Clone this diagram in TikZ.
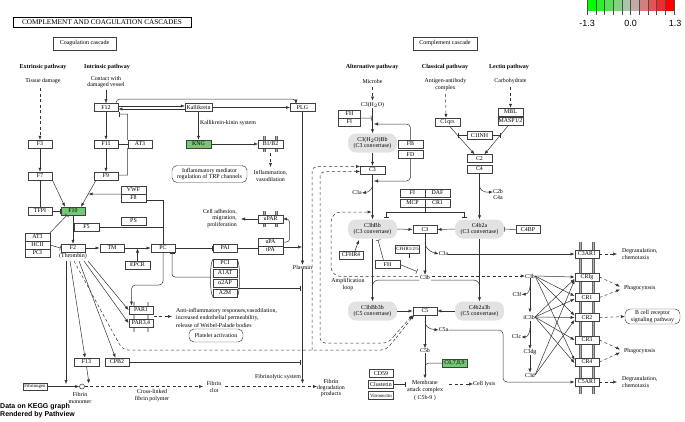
\documentclass[tikz,border=0pt]{standalone}
\usepackage{fontspec}
\setmainfont{Liberation Serif}
\newfontfamily\sansf{Liberation Sans}
\usetikzlibrary{arrows.meta}
\definecolor{kgreen}{RGB}{115,200,115}
\definecolor{cvgray}{RGB}{226,226,226}
\definecolor{lg0}{RGB}{0,255,0}
\definecolor{lg1}{RGB}{42,241,42}
\definecolor{lg2}{RGB}{84,226,84}
\definecolor{lg3}{RGB}{127,212,127}
\definecolor{lg4}{RGB}{169,197,169}
\definecolor{lg5}{RGB}{197,169,169}
\definecolor{lg6}{RGB}{212,127,127}
\definecolor{lg7}{RGB}{226,84,84}
\definecolor{lg8}{RGB}{241,42,42}
\definecolor{lg9}{RGB}{255,0,0}
\newcommand{\kf}{\fontsize{5.9}{6.3}\selectfont}
\newcommand{\kfs}{\fontsize{4.8}{5}\selectfont}
\begin{document}
\begin{tikzpicture}[x=1pt,y=-1pt,
  g/.style={draw=black!75, line width=0.45pt, fill=white, minimum width=24.5pt, minimum height=8pt, inner sep=0pt, font=\kf},
  gg/.style={g, fill=kgreen},
  cv/.style={fill=cvgray, rounded corners=8pt, minimum width=49pt, minimum height=19pt, inner sep=0pt, font=\kf, align=center},
  tx/.style={font=\kf, inner sep=0pt, align=center},
  bt/.style={font=\fontsize{6}{6.5}\selectfont\bfseries, inner sep=0pt},
  rb/.style={draw=black!75, line width=0.45pt, rounded corners=5pt, font=\kf, align=center, inner sep=0pt},
  ln/.style={line width=0.5pt, draw=black!80},
  ar/.style={ln, -{Latex[length=4pt,width=3.2pt]}},
  inh/.style={ln, -{Bar[width=5pt]}},
  dsh/.style={dash pattern=on 3pt off 2.5pt},
  memb/.style={draw=black!60, double=black!30, double distance=1.4pt, line width=0.4pt}
]
\useasboundingbox (0,0) rectangle (685,421);
\fill[white] (0,0) rectangle (685,421);

% ---------- legend ----------
\foreach \i in {0,...,9} \fill[lg\i] ({587+8.7*\i},0) rectangle ({595.7+8.7*\i},11);
\foreach \i in {0,...,10} \draw[line width=0.4pt, black!70] ({587+8.7*\i},0) -- ({587+8.7*\i},15);
\node[font=\sansf\fontsize{9}{10}\selectfont, inner sep=0] (lgA) at (587,23) {-1.3};
\node[font=\sansf\fontsize{9}{10}\selectfont, inner sep=0] (lgB) at (630.5,23) {0.0};
\node[font=\sansf\fontsize{9}{10}\selectfont, inner sep=0] (lgC) at (675,23) {1.3};

% ---------- membranes ----------
\draw[memb] (264.5,136) -- (264.5,152);
\draw[memb] (276.5,136) -- (276.5,152);
\draw[memb] (264.5,211) -- (264.5,227);
\draw[memb] (276.5,211) -- (276.5,227);
\draw[memb] (134,302) -- (134,332);
\draw[memb] (148,302) -- (148,332);
\draw[memb] (580.5,242) -- (580.5,394);
\draw[memb] (593.5,242) -- (593.5,394);

% ---------- headers ----------
\node[draw=black, line width=0.6pt, minimum width=178pt, minimum height=10pt, inner sep=0pt, font=\fontsize{7.2}{8}\selectfont] (title) at (102,22) {COMPLEMENT AND COAGULATION CASCADES};
\node[g, minimum width=63pt, minimum height=13pt, font=\fontsize{6}{7}\selectfont] (coag) at (84.5,43.5) {Coagulation cascade};
\node[g, minimum width=64pt, minimum height=13pt, font=\fontsize{6}{7}\selectfont] (comp) at (445,43.5) {Complement cascade};
\node[bt] (ext) at (43,67) {Extrinsic pathway};
\node[bt] (int) at (107,67) {Intrinsic pathway};
\node[bt] (alt) at (372,67) {Alternative pathway};
\node[bt] (cla) at (445,67) {Classical pathway};
\node[bt] (lec) at (509,67) {Lectin pathway};

% ---------- coagulation nodes ----------
\node[tx] (tis) at (43,81) {Tissue damage};
\node[tx] (cont) at (106,82) {Contact with\\damaged vessel};
\node[g] (F12) at (106,107.5) {F12};
\node[g, minimum width=27pt] (Kal) at (198.5,107.5) {Kallikrein};
\node[g] (PLG) at (302.5,107.5) {PLG};
\node[tx] (kks) at (228,123) {Kallikrein-kinin system};
\node[g] (F3) at (40,144) {F3};
\node[g] (F11) at (106,144) {F11};
\node[g] (AT3a) at (140,144) {AT3};
\node[gg] (KNG) at (198.5,144) {KNG};
\node[g] (B1B2) at (270.5,144) {B1/B2};
\node[g] (F7) at (40,176) {F7};
\node[g] (F9) at (106,176) {F9};
\node[rb, minimum width=75pt, minimum height=17pt] (trp) at (209.5,174) {Inflammatory mediator\\regulation of TRP channels};
\node[tx] (infl) at (270.5,176) {Inflammation,\\vasodilation};
\node[g] (VWF) at (133.5,190) {VWF};
\node[g] (F8) at (133.5,198) {F8};
\node[g] (PS) at (133.5,221) {PS};
\node[g] (F5) at (86.5,227) {F5};
\node[g] (TFPI) at (40,211) {TFPI};
\node[gg] (F10) at (73,211) {F10};
\node[tx, align=right, anchor=east] (cell) at (237,218.5) {Cell adhesion,\\migration,\\proliferation};
\node[g] (uPAR) at (270.5,219) {uPAR};
\node[g] (AT3b) at (37.5,237) {AT3};
\node[g] (HCII) at (37.5,245) {HCII};
\node[g] (PCIa) at (37.5,253) {PCI};
\node[g] (F2) at (73,248) {F2};
\node[tx] (thr) at (73,256.5) {(Thrombin)};
\node[g] (TM) at (112,248) {TM};
\node[g] (PC) at (163,248) {PC};
\node[g] (PAI) at (225,248) {PAI};
\node[g] (uPA) at (270.5,242) {uPA};
\node[g] (tPA) at (270.5,250) {tPA};
\node[g] (EPCR) at (137.5,265) {EPCR};
\node[g] (PCIb) at (225,263) {PCI};
\node[g] (A1AT) at (225,273) {A1AT};
\node[g] (a2AP) at (225,283) {α2AP};
\node[g] (A2M) at (225,293) {A2M};
\node[tx] (plas) at (302.5,267) {Plasmin};
\node[g] (PAR1) at (141,310) {PAR1};
\node[g] (PAR34) at (141,323) {PAR3,4};
\node[tx, align=left, anchor=west, font=\fontsize{5.9}{7.5}\selectfont] (anti) at (176,317.5) {Anti-inflammatory responses,vasodilation,\\increased endothelial permeability,\\release of Weibel-Palade bodies};
\node[rb, minimum width=54pt, minimum height=13pt] (plt) at (216,335.5) {Platelet activation};
\node[g] (F13) at (86.5,362) {F13};
\node[g] (CPB2) at (117,362) {CPB2};
\node[tx] (fls) at (278,377) {Fibrinolytic system};
\node[g, minimum height=7pt, font=\kfs] (Fbg) at (35,386.5) {Fibrinogen};
\node[circle, draw=black!80, line width=0.5pt, inner sep=0pt, minimum size=5pt] (fm) at (82,386.5) {};
\node[tx] (fmt) at (80,398) {Fibrin\\monomer};
\node[tx] (xl) at (152,395.5) {Cross-linked\\fibrin polymer};
\node[tx] (clot) at (214,387) {Fibrin\\clot};
\node[tx] (fdp) at (331,388) {Fibrin\\degradation\\products};
\node[anchor=west, font=\sansf\bfseries\fontsize{7}{8.5}\selectfont, inner sep=0pt, align=left] (pv) at (0,410.5) {Data on KEGG graph\\Rendered by Pathview};

% serpin brackets
\draw[ln] (213,259) .. controls (209.5,263) and (209.5,293) .. (213,297);
\draw[ln] (237,259) .. controls (240.5,263) and (240.5,293) .. (237,297);

% ---------- complement nodes ----------
\node[tx] (mic) at (372.5,81) {Microbe};
\node[tx] (c3h) at (372.5,105) {C3(H$_2$O)};
\node[g, minimum width=22pt] (FHa) at (349.5,114) {FH};
\node[g, minimum width=22pt] (FIa) at (349.5,122) {FI};
\node[cv] (c3hbb) at (372.5,143) {C3(H$_2$O)Bb\\(C3 convertase)};
\node[g] (FB) at (410.5,144) {FB};
\node[g] (FD) at (410.5,154.5) {FD};
\node[g] (C3a) at (372.5,170) {C3};
\node[tx] (c3at) at (357,193) {C3a};
\node[g] (FIb) at (412.5,193) {FI};
\node[g] (DAF) at (437.5,193) {DAF};
\node[g] (MCP) at (412.5,203) {MCP};
\node[g] (CR1a) at (437.5,203) {CR1};
\node[cv] (c3bbb) at (372.5,229) {C3bBb\\(C3 convertase)};
\node[g] (C3m) at (425,229.5) {C3};
\node[cv] (c4b2a) at (479.5,229) {C4b2a\\(C3 convertase)};
\node[g] (C4BP) at (528,229.5) {C4BP};
\node[tx] (agt) at (445.5,84.5) {Antigen-antibody\\complex};
\node[tx] (carb) at (510.5,81) {Carbohydrate};
\node[g] (C1qrs) at (447.5,122) {C1qrs};
\node[g] (MBL) at (510.5,112) {MBL};
\node[g] (MASP) at (510.5,121) {MASP1/2};
\node[g] (C1INH) at (479.5,135.5) {C1INH};
\node[g] (C2) at (479.5,158.5) {C2};
\node[g] (C4) at (479.5,169) {C4};
\node[tx] (c2b) at (498,194.5) {C2b\\C4a};
\node[g] (CFHR4) at (351,255) {CFHR4};
\node[g, line width=0.8pt, font=\kfs] (CFHR) at (407.5,249) {CFHR1/2/5};
\node[g] (FHb) at (387.5,264.5) {FH};
\node[tx] (c3a2) at (443.5,254) {C3a};
\node[tx] (c3b) at (425,277) {C3b};
\node[tx] (amp) at (348,284.5) {Amplification\\loop};
\node[cv] (c3bbb3b) at (372.5,311) {C3bBb3b\\(C5 convertase)};
\node[g] (C5) at (425,311) {C5};
\node[cv] (c4b2a3b) at (479.5,311) {C4b2a3b\\(C5 convertase)};
\node[tx] (c5a) at (443.5,330) {C5a};
\node[tx] (c5b) at (425,350.5) {C5b};
\node[gg] (C6) at (454.5,363) {C6,7,8,9};
\node[g] (CD59) at (381,373.5) {CD59};
\node[g, line width=0.8pt] (CLU) at (381,384.5) {Clusterin};
\node[g, line width=0.8pt, font=\kfs] (VTN) at (381,395.5) {Vitronectin};
\node[tx, font=\fontsize{5.9}{7.5}\selectfont] (mac) at (425,390.5) {Membrane\\attack complex\\( C5b-9 )};
\node[tx, anchor=west] (lys) at (473,384) {Cell lysis};
\node[g] (C3AR1) at (587,254) {C3AR1};
\node[tx, anchor=west, align=left] (deg1) at (622,254) {Degranulation,\\chemotaxis};
\node[tx] (c3br) at (530,276) {C3b};
\node[tx] (c3f) at (517,294.5) {C3f};
\node[tx] (ic3b) at (529,317) {iC3b};
\node[tx] (c3c) at (516.5,337) {C3c};
\node[tx] (c3dg) at (530,352) {C3dg};
\node[tx] (c3d) at (530,375) {C3d};
\node[g] (CRIg) at (587,277) {CRIg};
\node[g] (CR1b) at (587,297.5) {CR1};
\node[g] (CR2) at (587,317.5) {CR2};
\node[g] (CR3) at (587,340) {CR3};
\node[g] (CR4) at (587,362) {CR4};
\node[g] (C5AR1) at (587,382) {C5AR1};
\node[tx, anchor=west] (ph1) at (624,288) {Phagocytosis};
\node[rb, minimum width=55pt, minimum height=15pt] (bcr) at (652.5,316.5) {B cell receptor\\signaling pathway};
\node[tx, anchor=west] (ph2) at (624,351) {Phagocytosis};
\node[tx, anchor=west, align=left] (deg2) at (622,382) {Degranulation,\\chemotaxis};

% ---------- coagulation edges ----------
\draw[ar,dsh] (40,88) -- (F3.north);
\draw[ar] (106,89.5) -- (F12.north);
\draw[ar] ([yshift=1.5pt]F12.east) -- ([yshift=1.5pt]Kal.west);
\draw[ar] ([yshift=-1.5pt]Kal.west) -- ([yshift=-1.5pt]F12.east);
\draw[ar] (Kal.east) -- (PLG.west);
\draw[ar,rounded corners=4pt] (116,103.5) -- (116,99) -- (296,99) -- (296,103.5);
\draw[ar] (F12.south) -- (F11.north);
\draw[inh] (AT3a.north west) -- (127.75,114) -- (119,114);
\draw[inh] (AT3a.west) -- (F11.east);
\draw[inh] (AT3a.south west) -- (127.75,175) -- ([yshift=1pt]F9.east);
\draw[ar] (F11.south) -- (F9.north);
\draw[ar] (Kal.south) -- (KNG.north);
\draw[ar] (KNG.east) -- (B1B2.west);
\draw[ar,dsh] (270.5,153) -- (270.5,167);
\draw[ar] (F3.south) -- (F7.north);
\draw[inh] (TFPI.north) -- (F7.south);
\draw[inh] (TFPI.east) -- (F10.west);
\draw[ar] (F7.south east) -- ([xshift=-8pt]F10.north);
\draw[ar] ([xshift=-10pt]F9.south) -- ([xshift=8pt]F10.north);
\draw[ar] (VWF.south west) -- (88.5,194);
\draw[inh] (PC.north) |- ([yshift=-2pt]F8.east);
\draw[inh] (163,227) -- (F5.east);
\draw[ar] (F10.south) -- (F2.north);
\draw[inh] (AT3b.north east) -- ([xshift=-6pt]F10.south);
\draw[inh] (HCII.east) -- (F2.west);
\draw[ar] (F2.east) -- (TM.west);
\draw[ar] (TM.east) -- (PC.west);
\draw[ar] (EPCR.north) -- (137.5,248.5);
\draw[inh] (PC.east) -- (PAI.west);
\draw[inh] (PAI.east) -- (258,248);
\draw[ar,rounded corners=3pt] (uPA.east) -- (289.5,242) -- (289.5,219) -- (uPAR.east);
\draw[ar] (uPAR.west) -- (241,219);
\draw[ar] (282.75,247) -- (302,247);
\draw[ar] (PLG.south) -- (plas.north);
\draw[ar] (plas.south) -- (302.5,383.5);
\draw[inh] (237.5,288) -- (300.5,288);
\draw[inh,rounded corners=3pt] (211,277) -- (172,277) -- (172,252.5);
\draw[ar,rounded corners=4pt] (PC.south) -- (163,285) -- (131.5,285) -- (131.5,305.5);
% thrombin fan
\draw[ar] (66,261) -- (66,384);
\draw[ar] (70,261) -- ([xshift=-1.5pt]F13.north);
\draw[ln,dsh,rounded corners=5pt] (74,261) -- (117,340) -- (123,350) -- (386,350) -- (396,338);
\draw[ar,dsh] (396,338) -- ([xshift=1.5pt]C5.south west);
\draw[ar] (79,261) -- ([xshift=-1.5pt]CPB2.north);
\draw[ar] (84,261) -- (PAR34.west);
\draw[ar] (88,261) -- (PAR1.west);
\draw[ar,dsh] (153.5,316.5) -- (172,316.5);
\draw[ar] (Fbg.east) -- (fm.west);
\draw[ar] (F13.south) -- (89,383.5);
\draw[ar,dsh] (fm.east) -- (203,386.5);
\draw[ar,dsh] (225,386.5) -- (317,386.5);
\draw[inh] (CPB2.east) -- (300.5,362);
% dashed loops to C3 / C5
\draw[ar,dsh,rounded corners=5pt] (312,350) -- (312,166.5) -- (C3a.west |- 0,166.5);
\draw[ar,dsh,rounded corners=5pt] (320,250) -- (320,171.5) -- (C3a.west |- 0,171.5);
\draw[ln,dsh,rounded corners=5pt] (320,250) -- (320,343) -- (388,343) -- (394,336);
\draw[ar,dsh] (394,336) -- (C5.south west);

% ---------- complement edges ----------
\draw[ar,dsh] (372.5,87) -- (372.5,100.5);
\draw[ar] (c3h.south) -- (c3hbb.north);
\draw[inh] (FHa.south east) -- (371.5,118);
\draw[ar,rounded corners=4pt] (FB.north) -- (410.5,124) -- (374,124);
\draw[ar,rounded corners=4pt] (FD.south) -- (410.5,181) -- (374,181);
\draw[ar] (c3hbb.south) -- (C3a.north);
\draw[ar] (C3a.south) -- (c3bbb.north);
\draw[ar] (372.5,185) .. controls (372.5,189) and (369,192) .. (c3at.east);
\draw[ar,dsh,rounded corners=10pt] (418,276.5) -- (331,276.5) -- (331,212) -- (371.5,212);
\draw[ln] (425,207.5) -- (425,212);
\draw[ln] (386,212) -- (464,212);
\draw[inh] (386,212) -- (386,217.5);
\draw[inh] (464,212) -- (464,217.5);
\draw[ar] (c3bbb.east) -- (C3m.west);
\draw[ar] (c4b2a.west) -- (C3m.east);
\draw[inh] (C4BP.west) -- (c4b2a.east);
\draw[ar,dsh] (445.5,94) -- ([xshift=-1.5pt]C1qrs.north);
\draw[ar,dsh] (510.5,87) -- (MBL.north);
\draw[ar] ([xshift=2pt]C1qrs.south) -- ([xshift=-5pt]C2.north);
\draw[ar] ([xshift=-2pt]MASP.south) -- ([xshift=5pt]C2.north);
\draw[inh] (C1INH.west) -- (457.8,135.5);
\draw[inh] (C1INH.east) -- (500.2,135.5);
\draw[ar] (C4.south) -- (c4b2a.north);
\draw[ar] (479.5,185) .. controls (479.5,189) and (482,192.5) .. (c2b.west |- 0,192);
\draw[ar] (C3m.south) -- (c3b.north);
\draw[ar] (425,242) .. controls (425,247) and (428,251) .. (c3a2.west);
\draw[ar] (c3a2.east) -- (C3AR1.west);
\draw[ar,dsh] (C3AR1.east) -- (617,254);
\draw[ar] ([xshift=4pt]CFHR4.north) -- (359,240);
\draw[inh] ([xshift=-4pt]FHb.north) -- (378,240);
\draw[inh] (FHb.east) -- (417,271.5);
\draw[ln] ([xshift=2pt]CFHR.south) -- (409.5,258);
\draw[ar] (c3bbb.south) -- (c3bbb3b.north);
\draw[ln,rounded corners=6pt] (419,280) -- (372.5,280) -- (372.5,290);
\draw[ln,rounded corners=6pt] (431,280) -- (479.5,280) -- (479.5,290);
\draw[ar] (c4b2a.south) -- (c4b2a3b.north);
\draw[ar,dsh] (432,276) -- (c3br.west);
\draw[ar] (c3bbb3b.east) -- (C5.west);
\draw[ar] (c4b2a3b.west) -- (C5.east);
\draw[ar] (C5.south) -- (c5b.north);
\draw[ar] (425,321) .. controls (425,326) and (428,329) .. (c5a.west);
\draw[ar,rounded corners=4pt] (c5a.east) -- (503,330) -- (503,382) -- (C5AR1.west);
\draw[ar,dsh] (C5AR1.east) -- (617,382);
\draw[ar] (c5b.south) -- (425,378.5);
\draw[ln,rounded corners=4pt] (C6.west) -- (425,363) -- (425,372);
\draw[inh] (CLU.east) -- (405,384.5);
\draw[ar,dsh] (449,384) -- (lys.west);
% right side
\draw[ar] (c3br.south) -- (530,312.5);
\draw[ar] (530,286) .. controls (530,290) and (528,294) .. (c3f.east);
\draw[ar] (530,321) -- (c3dg.north);
\draw[ar] (530,328) .. controls (530,332) and (528,337) .. (c3c.east);
\draw[ar] (c3dg.south) -- (c3d.north);
\draw[ar] (c3br.east) -- (CRIg.west);
\draw[ar] (c3br.east) -- ([yshift=1.5pt]CR1b.west);
\draw[ar] (c3br.east) -- ([yshift=2pt]CR2.west);
\draw[ar] (c3br.east) -- ([yshift=2pt]CR4.west);
\draw[ar] (ic3b.east) -- ([yshift=-2pt]CRIg.west);
\draw[ar] (ic3b.east) -- ([yshift=-1.5pt]CR1b.west);
\draw[ar] (ic3b.east) -- (CR2.west);
\draw[ar] (ic3b.east) -- (CR3.west);
\draw[ar] (ic3b.east) -- ([yshift=-1pt]CR4.west);
\draw[ar] (c3d.east) -- ([yshift=-3pt]CRIg.west);
\draw[ar] (c3d.east) -- ([yshift=-2.5pt]CR2.west);
\draw[ar,dsh] (CRIg.east) -- (620,286.5);
\draw[ar,dsh] (CR1b.east) -- (620,289.5);
\draw[ar,dsh] (CR2.east) -- (bcr.west);
\draw[ar,dsh] (CR3.east) -- (620,349.5);
\draw[ar,dsh] (CR4.east) -- (620,352.5);
\end{tikzpicture}
\end{document}
